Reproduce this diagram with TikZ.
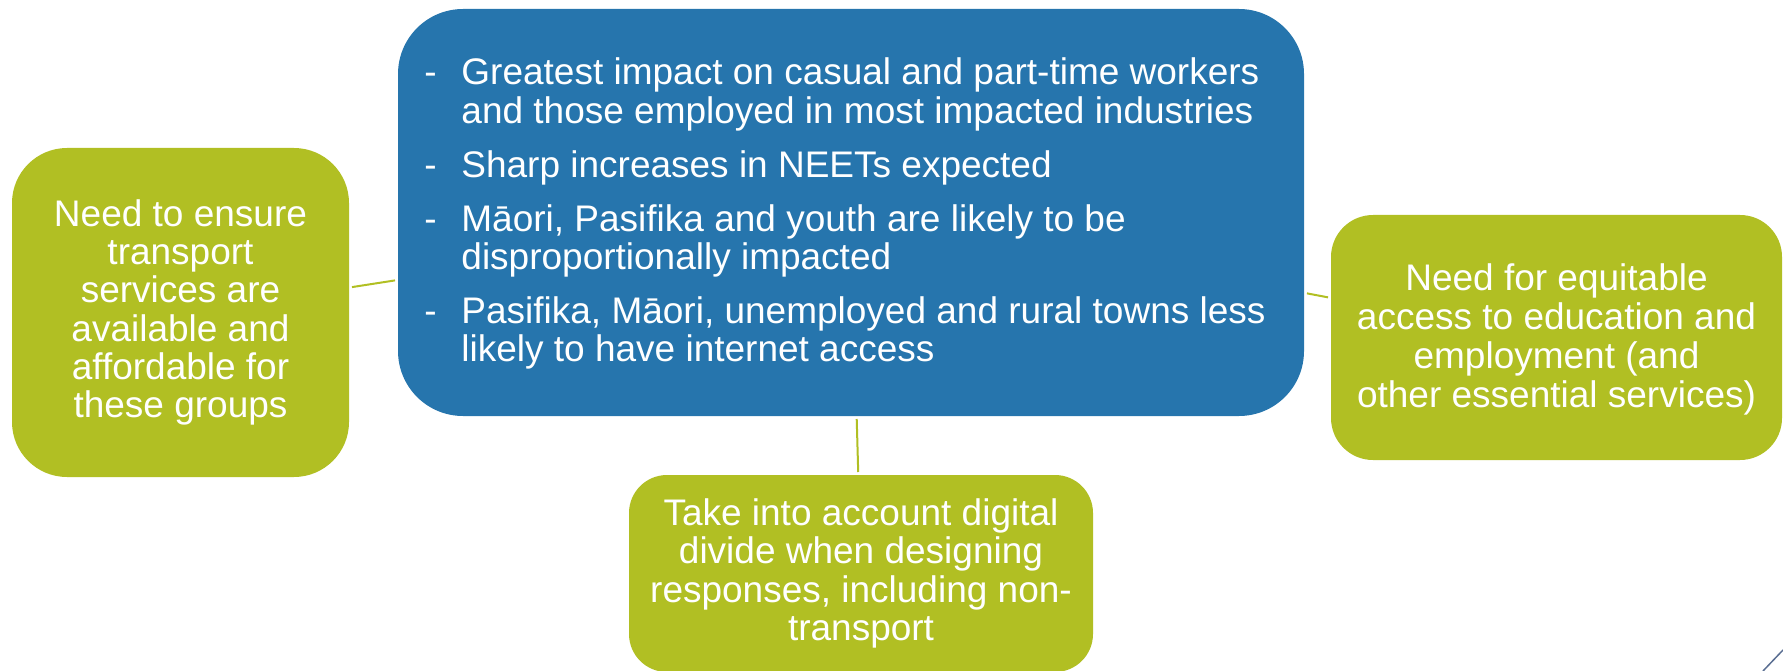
\documentclass[tikz,border=0pt]{standalone}
\usepackage{fontspec}
\setmainfont{Liberation Sans}
\usepackage{array}
\definecolor{boxblue}{HTML}{2675AD}
\definecolor{boxgreen}{HTML}{B1BF23}
\definecolor{slate}{HTML}{5A6E92}
\begin{document}
\begin{tikzpicture}[x=1pt,y=-1pt,
  every node/.style={inner sep=0pt, outer sep=0pt, text=white, font=\fontsize{37}{38.2}\selectfont},
  bluebox/.style={fill=boxblue, rounded corners=65pt},
  greenbox/.style={fill=boxgreen, align=center},
  link/.style={draw=boxgreen, line width=2pt, shorten <=3pt, shorten >=3pt}]
\useasboundingbox (0,0) rectangle (1783,671);

\node[bluebox, minimum width=906pt, minimum height=407pt] (main) at (851,212.5)
 {\fontsize{37}{37.5}\selectfont
  \begin{tabular}{@{}p{37pt}@{}l@{}}
  \rule{0pt}{32.5pt}- & Greatest impact on casual and part-time workers\\
    & and those employed in most impacted industries\\[16pt]
  - & Sharp increases in NEETs expected\\[16pt]
  - & Māori, Pasifika and youth are likely to be\\
    & disproportionally impacted\\[16pt]
  - & Pasifika, Māori, unemployed and rural towns less\\
    & likely to have internet access
  \end{tabular}\hspace*{12pt}};

\node[greenbox, minimum width=337pt, minimum height=329pt, rounded corners=55pt] (left) at (180.5,312.5)
 {Need to ensure\\transport\\services are\\available and\\affordable for\\these groups};

\node[greenbox, minimum width=451pt, minimum height=245pt, rounded corners=42pt,
      font=\fontsize{37}{38.8}\selectfont] (right) at (1556.5,337.5)
 {\rule{0pt}{31pt}Need for equitable\\access to education and\\employment (and\\other essential services)};

\node[greenbox, minimum width=464pt, minimum height=197pt, rounded corners=38pt] (bottom) at (861,573.5)
 {Take into account digital\\divide when designing\\responses, including non-\\transport};

\draw[link] (main) -- (left);
\draw[link] (main) -- (right);
\draw[link] (main) -- (bottom);

\draw[slate, line width=1.5pt] (1763,671) -- (1783,650);
\end{tikzpicture}
\end{document}
